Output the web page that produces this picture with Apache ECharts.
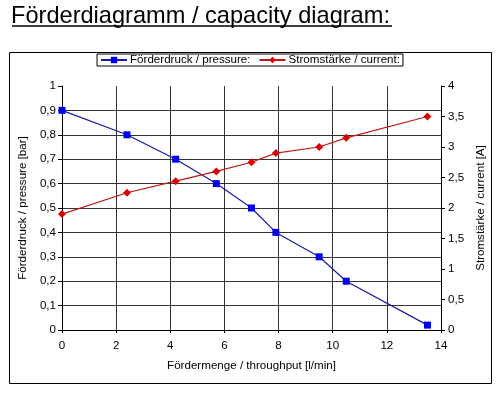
<!DOCTYPE html>
<html><head><meta charset="utf-8">
<script src="https://cdn.jsdelivr.net/npm/echarts@6/dist/echarts.min.js"></script>
<style>html,body{margin:0;padding:0;background:#fff}#c{width:500px;height:394px}</style>
</head><body><div id="c"></div>
<script>
const flow = [0, 2.4, 4.2, 5.7, 7.0, 7.9, 9.5, 10.5, 13.5];
const pressure = [0.9, 0.8, 0.7, 0.6, 0.5, 0.4, 0.3, 0.2, 0.02];
const current = [1.9, 2.25, 2.44, 2.6, 2.75, 2.9, 3.0, 3.15, 3.5];
const titleText = 'Förderdiagramm / capacity diagram:';
const seriesNames = ['Förderdruck / pressure:', 'Stromstärke / current:'];
const xName = 'Fördermenge / throughput [l/min]';
const yLeftName = 'Förderdruck / pressure [bar]';
const yRightName = 'Stromstärke / current [A]';

const F = 'Arial, "Liberation Sans", sans-serif';
const FS = 11.6;
const comma = v => String(+v.toFixed(2)).replace('.', ',');
const chart = echarts.init(document.getElementById('c'), null, {renderer: 'canvas'});
chart.setOption({
  animation: false,
  backgroundColor: '#fff',
  title: {
    text: titleText, left: 11, top: 4, padding: 0,
    textStyle: {fontFamily: F, fontSize: 23.6, fontWeight: 'normal', color: '#000'}
  },
  graphic: [
    {type: 'line', shape: {x1: 12, y1: 26, x2: 392, y2: 26}, style: {stroke: '#000', lineWidth: 1.5}},
    {type: 'rect', shape: {x: 9.5, y: 52.5, width: 482, height: 331}, style: {fill: 'none', stroke: '#000', lineWidth: 1}, z: -1}
  ],
  legend: {
    top: 54, left: 'center',
    borderColor: '#000', borderWidth: 1, borderRadius: 0,
    padding: [0, 3, 0, 3], itemGap: 8, itemWidth: 26, itemHeight: 8,
    textStyle: {fontFamily: F, fontSize: FS, color: '#000', padding: [1, 0, 0, -2]}
  },
  grid: {left: 62, right: 59, top: 86, bottom: 64},
  xAxis: {
    type: 'value', min: 0, max: 14, interval: 2,
    name: xName, nameLocation: 'middle', nameGap: 30,
    nameTextStyle: {fontFamily: F, fontSize: FS, color: '#000'},
    axisLine: {show: true, lineStyle: {color: '#000', width: 1}},
    axisTick: {show: true, length: 3, inside: false, lineStyle: {color: '#000'}},
    axisLabel: {fontFamily: F, fontSize: FS, color: '#000', margin: 10, formatter: comma},
    splitLine: {show: true, showMinLine: false, showMaxLine: false, lineStyle: {color: '#333', width: 1}}
  },
  yAxis: [
    {
      type: 'value', min: 0, max: 1, interval: 0.1, position: 'left',
      name: yLeftName, nameLocation: 'middle', nameGap: 30, nameRotate: 90,
      nameTextStyle: {fontFamily: F, fontSize: FS, color: '#000'},
      axisLine: {show: true, lineStyle: {color: '#000', width: 1}},
      axisTick: {show: true, length: 4, lineStyle: {color: '#000'}},
      axisLabel: {fontFamily: F, fontSize: FS, color: '#000', margin: 6, formatter: comma},
      splitLine: {show: true, showMinLine: false, showMaxLine: false, lineStyle: {color: '#333', width: 1}}
    },
    {
      type: 'value', min: 0, max: 4, interval: 0.5, position: 'right',
      name: yRightName, nameLocation: 'middle', nameGap: 28, nameRotate: 90,
      nameTextStyle: {fontFamily: F, fontSize: FS, color: '#000'},
      axisLine: {show: true, lineStyle: {color: '#000', width: 1}},
      axisTick: {show: true, length: 4, lineStyle: {color: '#000'}},
      axisLabel: {fontFamily: F, fontSize: FS, color: '#000', margin: 7, formatter: comma},
      splitLine: {show: false}
    }
  ],
  series: [
    {
      name: seriesNames[0], type: 'line', yAxisIndex: 0,
      data: flow.map((x, i) => [x, pressure[i]]),
      symbol: 'rect', symbolSize: 7,
      lineStyle: {color: '#1a1aa6', width: 1.2},
      itemStyle: {color: '#0000ee'}
    },
    {
      name: seriesNames[1], type: 'line', yAxisIndex: 1,
      data: flow.map((x, i) => [x, current[i]]),
      symbol: 'diamond', symbolSize: 8,
      lineStyle: {color: '#c01818', width: 1.2},
      itemStyle: {color: '#dd0000'}
    }
  ]
});
</script></body></html>
